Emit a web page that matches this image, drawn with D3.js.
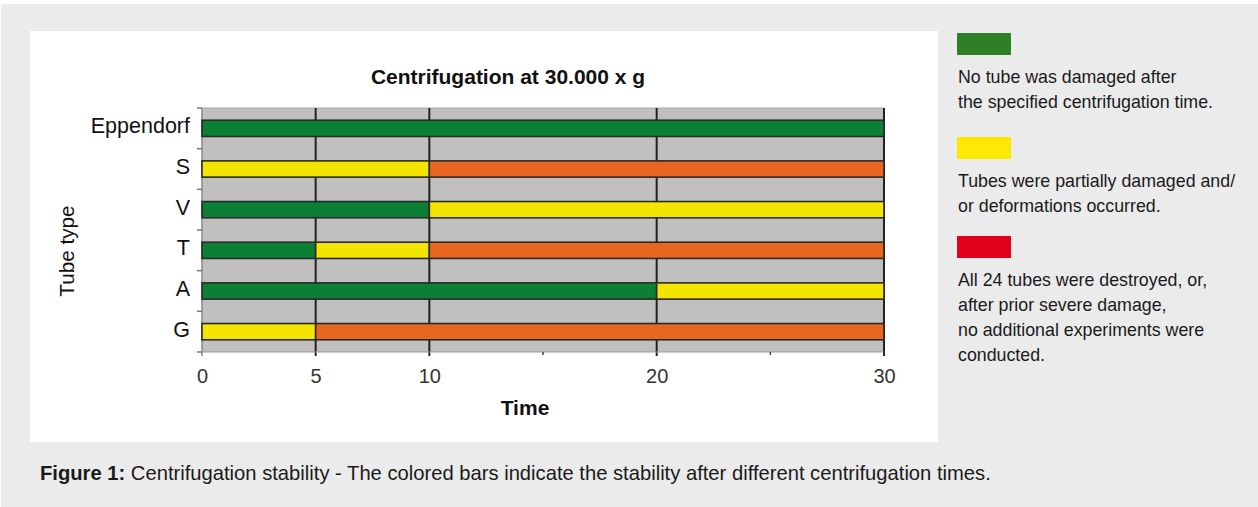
<!DOCTYPE html>
<html><head><meta charset="utf-8">
<script src="https://cdn.jsdelivr.net/npm/d3@7"></script>
<style>
html,body{margin:0;padding:0;background:#fff;}
svg{display:block;font-family:"Liberation Sans",Arial,Helvetica,sans-serif;}
</style></head>
<body>
<svg id="c" width="1258" height="507"></svg>
<script>
// ---- data ----
const categories = ["Eppendorf", "S", "V", "T", "A", "G"];
// time until which no tube was damaged (green)
const greenUntil = [30, 0, 10, 5, 20, 0];
// time until which tubes were partially damaged (yellow)
const yellowUntil = [30, 10, 30, 10, 30, 5];
// total duration of the test (rest is destroyed, orange)
const totalTime = [30, 30, 30, 30, 30, 30];
const xTicks = [0, 5, 10, 20, 30];
const xMinorTicks = [15, 25];
const legendTexts = [
  ["No tube was damaged after", "the specified centrifugation time."],
  ["Tubes were partially damaged and/", "or deformations occurred."],
  ["All 24 tubes were destroyed, or,", "after prior severe damage,", "no additional experiments were", "conducted."]
];
const legendColors = ["#2f7f27", "#ffe800", "#e2001a"];
const barColors = {green: "#0b7f33", yellow: "#f4e500", orange: "#e8661f"};

const svg = d3.select("#c");
// background panels
svg.append("rect").attr("x", 1).attr("y", 4).attr("width", 1257).attr("height", 503).attr("fill", "#ebebeb");
svg.append("rect").attr("x", 30).attr("y", 31).attr("width", 908).attr("height", 411).attr("fill", "#fff");

const plot = {left: 202, right: 884, top: 108, bottom: 352};
const x = d3.scaleLinear().domain([0, 30]).range([plot.left, plot.right]);
const y = d3.scaleBand().domain(categories).range([plot.top, plot.bottom]).paddingInner(0.6).paddingOuter(0.3);
const yb = d3.scaleBand().domain(categories).range([plot.top, plot.bottom]);

const g = svg.append("g");
g.append("rect").attr("x", plot.left).attr("y", plot.top).attr("width", plot.right - plot.left)
  .attr("height", plot.bottom - plot.top).attr("fill", "#c0c0c0");
g.append("line").attr("x1", plot.left).attr("x2", plot.right).attr("y1", plot.top).attr("y2", plot.top)
  .attr("stroke", "#a8a8a8").attr("stroke-width", 1);

// vertical grid
g.selectAll(".grid").data(xTicks.filter(d => d > 0)).join("line")
  .attr("x1", d => x(d)).attr("x2", d => x(d))
  .attr("y1", plot.top).attr("y2", plot.bottom + 4)
  .attr("stroke", "#222").attr("stroke-width", 2);
// left axis line
g.append("line").attr("x1", plot.left).attr("x2", plot.left).attr("y1", plot.top).attr("y2", plot.bottom + 4)
  .attr("stroke", "#888").attr("stroke-width", 1.5);
// bottom axis line
g.append("line").attr("x1", plot.left).attr("x2", plot.right).attr("y1", plot.bottom).attr("y2", plot.bottom)
  .attr("stroke", "#999").attr("stroke-width", 1);
// minor ticks
g.selectAll(".minor").data(xMinorTicks).join("line")
  .attr("x1", d => x(d)).attr("x2", d => x(d))
  .attr("y1", plot.bottom).attr("y2", plot.bottom + 3)
  .attr("stroke", "#444").attr("stroke-width", 1.5);
// y ticks at band boundaries
const yBounds = categories.map(c => yb(c)).concat([plot.bottom]);
g.selectAll(".ytick").data(yBounds).join("line")
  .attr("x1", plot.left - 5).attr("x2", plot.left).attr("y1", d => d).attr("y2", d => d)
  .attr("stroke", "#777").attr("stroke-width", 1.5);

// segments
const segs = [];
categories.forEach((c, i) => {
  if (greenUntil[i] > 0) segs.push({c, a: 0, b: greenUntil[i], col: barColors.green});
  if (yellowUntil[i] > greenUntil[i]) segs.push({c, a: greenUntil[i], b: yellowUntil[i], col: barColors.yellow});
  if (totalTime[i] > yellowUntil[i]) segs.push({c, a: yellowUntil[i], b: totalTime[i], col: barColors.orange});
});
g.selectAll(".seg").data(segs).join("rect")
  .attr("x", d => x(d.a)).attr("width", d => x(d.b) - x(d.a))
  .attr("y", d => y(d.c)).attr("height", y.bandwidth())
  .attr("fill", d => d.col).attr("stroke", "#2a2a2a").attr("stroke-width", 1.6);

// y labels
g.selectAll(".ylab").data(categories).join("text")
  .attr("x", 190).attr("y", d => y(d) + y.bandwidth() / 2).attr("dy", "0.24em")
  .attr("text-anchor", "end").attr("font-size", 21.5).attr("fill", "#111").text(d => d);
// x labels
const xAxis = d3.axisBottom(x).tickValues(xTicks).tickSize(0).tickPadding(17).tickFormat(d3.format("d"));
const xg = g.append("g").attr("transform", `translate(0,${plot.bottom})`).call(xAxis);
xg.select(".domain").remove();
xg.selectAll("text").attr("font-size", 20).attr("fill", "#333").attr("font-family", "'Liberation Sans',Arial,sans-serif");

// titles
svg.append("text").attr("x", 508).attr("y", 84).attr("text-anchor", "middle").attr("font-size", 21)
  .attr("font-weight", "bold").attr("fill", "#111").text("Centrifugation at 30.000 x g");
svg.append("text").attr("x", 525).attr("y", 415).attr("text-anchor", "middle").attr("font-size", 21)
  .attr("font-weight", "bold").attr("fill", "#111").text("Time");
svg.append("text").attr("transform", "translate(74,251) rotate(-90)").attr("text-anchor", "middle")
  .attr("font-size", 20.7).attr("fill", "#111").text("Tube type");

// legend
const legTop = [33, 137, 236];
legendTexts.forEach((lines, i) => {
  svg.append("rect").attr("x", 957).attr("y", legTop[i]).attr("width", 54).attr("height", 22).attr("fill", legendColors[i]);
  lines.forEach((t, j) => {
    svg.append("text").attr("x", 958).attr("y", legTop[i] + 50 + j * 25).attr("font-size", 17.8)
      .attr("fill", "#1a1a1a").text(t);
  });
});

// caption
const cap = svg.append("text").attr("x", 40).attr("y", 480).attr("font-size", 20.2).attr("fill", "#1a1a1a");
cap.append("tspan").attr("font-weight", "bold").text("Figure 1:");
cap.append("tspan").text(" Centrifugation stability - The colored bars indicate the stability after different centrifugation times.");
</script>
</body></html>
